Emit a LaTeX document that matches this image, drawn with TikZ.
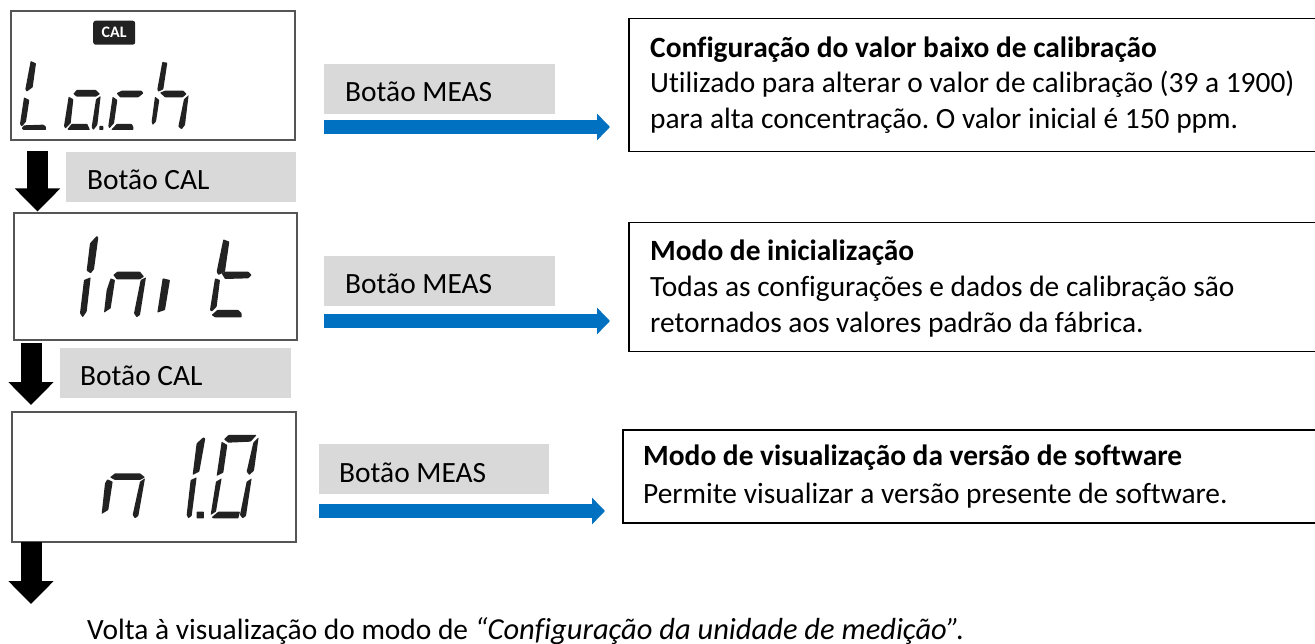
\documentclass[tikz,border=0pt]{standalone}
\usepackage{fontspec}
\setmainfont[Ligatures=NoCommon]{Carlito}
\usetikzlibrary{arrows.meta}
\definecolor{lcdline}{HTML}{555555}
\definecolor{seg}{HTML}{222222}
\definecolor{btn}{HTML}{D9D9D9}
\definecolor{flow}{HTML}{0070C0}
\tikzset{
  lcd/.style={draw=lcdline,line width=1.6pt,fill=white,anchor=north west,inner sep=0pt},
  btnbox/.style={fill=btn,anchor=north west,inner sep=0pt,minimum width=231pt,minimum height=50pt},
  infobox/.style={draw=black,line width=1.5pt,fill=white,anchor=north west,inner sep=0pt},
  txt/.style={anchor=base west,inner sep=0pt,font=\fontsize{29.4}{34}\selectfont,text=black},
  boldtxt/.style={txt,font=\bfseries\fontsize{29.4}{34}\selectfont},
  downarrow/.style={line width=21pt,draw=black,-{Triangle[width=44pt,length=23pt,fill=black]}},
  bluearrow/.style={line width=14pt,draw=flow,-{Triangle[width=26pt,length=13pt,fill=flow]}},
  sg/.style={fill=seg,draw=none,rounded corners=0.6pt},
  zoomA/.style={shift={(10pt,-50pt)},x=0.3333pt,y=-0.3333pt},
  zoomB/.style={shift={(70pt,-230pt)},x=0.3333pt,y=-0.3333pt},
  zoomC/.style={shift={(0pt,-400pt)},x=0.3333pt,y=-0.3333pt},
}
\begin{document}
\frenchspacing
\begin{tikzpicture}[x=1pt,y=-1pt]
\useasboundingbox (0,0) rectangle (1315,644);
\fill[white] (0,0) rectangle (1315,644);

% LCD panels
\node[lcd,minimum width=284pt,minimum height=129pt] (lcd1) at (10,10) {};
\node[lcd,minimum width=283pt,minimum height=127pt] (lcd2) at (13,212) {};
\node[lcd,minimum width=284pt,minimum height=130pt] (lcd3) at (11,411) {};

% CAL badge
\node[fill=seg,rounded corners=2.5pt,text=white,anchor=north west,inner sep=0pt,minimum width=42pt,minimum height=24pt,font=\bfseries\fontsize{16}{16}\selectfont] (calbadge) at (93,20.5) {CAL};

% Lach
\begin{scope}[zoomA]
\fill[sg] (62,33)--(78,40)--(68,112)--(50,125)--(46,118)--cycle;
\fill[sg] (42,142)--(58,150)--(48,215)--(35,230)--(30,222)--cycle;
\fill[sg] (42,226)--(100,224)--(108,230)--(108,240)--(40,240)--(35,235)--cycle;
\fill[sg] (190,132)--(200,120)--(258,120)--(270,132)--(258,140)--(200,140)--cycle;
\fill[sg] (176,140)--(190,148)--(182,220)--(166,236)--(162,228)--cycle;
\fill[sg] (172,238)--(185,222)--(232,222)--(240,240)--(175,240)--cycle;
\fill[sg] (258,148)--(272,138)--(262,225)--(250,240)--(245,232)--cycle;
\fill[sg] (268,228)--(280,228)--(280,240)--(268,240)--cycle;
\fill[sg] (320,130)--(335,122)--(395,122)--(400,130)--(385,142)--(330,142)--cycle;
\fill[sg] (308,140)--(322,150)--(312,220)--(298,235)--(295,228)--cycle;
\fill[sg] (305,238)--(320,222)--(365,222)--(370,230)--(370,240)--(305,240)--cycle;
\fill[sg] (457,36)--(472,38)--(460,118)--(445,125)--(442,118)--cycle;
\fill[sg] (435,140)--(448,150)--(438,215)--(428,225)--(425,215)--cycle;
\fill[sg] (450,128)--(465,122)--(520,122)--(530,132)--(518,142)--(465,142)--cycle;
\fill[sg] (522,148)--(536,135)--(525,225)--(515,238)--(505,230)--cycle;
\end{scope}

% Init
\begin{scope}[zoomB]
\fill[sg] (80,18)--(85,22)--(72,118)--(62,130)--(50,122)--(60,40)--cycle;
\fill[sg] (42,150)--(62,142)--(50,245)--(38,262)--(30,250)--cycle;
\fill[sg] (130,135)--(142,125)--(210,125)--(222,140)--(210,148)--(140,148)--cycle;
\fill[sg] (122,145)--(135,150)--(122,235)--(102,248)--(110,180)--cycle;
\fill[sg] (212,150)--(228,142)--(210,255)--(200,262)--(192,250)--cycle;
\fill[sg] (278,145)--(300,150)--(285,240)--(262,248)--cycle;
\fill[sg] (460,28)--(478,35)--(465,125)--(445,135)--(440,125)--cycle;
\fill[sg] (455,130)--(465,125)--(535,125)--(545,135)--(535,145)--(465,147)--cycle;
\fill[sg] (435,145)--(450,150)--(440,230)--(425,245)--(420,240)--cycle;
\fill[sg] (425,255)--(442,240)--(505,240)--(515,250)--(515,262)--(435,262)--cycle;
\end{scope}

% n 1.0
\begin{scope}[zoomC]
\fill[sg] (330,232)--(345,220)--(420,220)--(435,232)--(420,240)--(345,240)--cycle;
\fill[sg] (322,238)--(338,245)--(325,330)--(305,342)--(315,250)--cycle;
\fill[sg] (420,245)--(435,235)--(415,348)--(405,355)--(398,345)--cycle;
\fill[sg] (610,112)--(616,115)--(598,215)--(578,225)--(590,130)--cycle;
\fill[sg] (572,240)--(590,232)--(575,348)--(565,355)--(560,345)--cycle;
\fill[sg] (590,335)--(612,335)--(612,355)--(590,355)--cycle;
\fill[sg] (672,118)--(685,105)--(770,105)--(752,125)--(685,128)--cycle;
\fill[sg] (665,125)--(682,135)--(670,218)--(650,228)--cycle;
\fill[sg] (760,128)--(776,112)--(762,212)--(748,225)--(740,215)--cycle;
\fill[sg] (648,245)--(665,235)--(648,335)--(632,345)--cycle;
\fill[sg] (740,245)--(755,235)--(738,348)--(728,355)--(720,345)--cycle;
\fill[sg] (635,352)--(655,335)--(720,335)--(715,355)--(640,355)--cycle;
\end{scope}

% grey CAL labels
\node[btnbox,minimum width=230pt] (cal1) at (66,152) {};
\node[btnbox,minimum width=231pt] (cal2) at (60,348) {};
\node[txt] (cal1t) at (87,190) {Botão CAL};
\node[txt] (cal2t) at (80,385.5) {Botão CAL};

% grey MEAS labels
\node[btnbox] (meas1) at (324,64) {};
\node[btnbox] (meas2) at (324,256) {};
\node[btnbox,minimum width=230pt] (meas3) at (319,444) {};
\node[txt] (meas1t) at (345,102) {Botão MEAS};
\node[txt] (meas2t) at (345,294) {Botão MEAS};
\node[txt] (meas3t) at (339,482) {Botão MEAS};

% information boxes
\node[infobox,minimum width=700pt,minimum height=133pt] (info1) at (628,18) {};
\node[infobox,minimum width=700pt,minimum height=129pt] (info2) at (628,222) {};
\node[infobox,minimum width=706pt,minimum height=93pt] (info3) at (622,429) {};

\node[boldtxt] (t1a) at (650,57.5) {Configuração do valor baixo de calibração};
\node[txt] (t1b) at (650,93) {Utilizado para alterar o valor de calibração (39 a 1900)};
\node[txt] (t1c) at (650,128.5) {para alta concentração. O valor inicial é 150 ppm.};
\node[boldtxt] (t2a) at (650,260.5) {Modo de inicialização};
\node[txt] (t2b) at (650,297) {Todas as configurações e dados de calibração são};
\node[txt] (t2c) at (650,332.5) {retornados aos valores padrão da fábrica.};
\node[boldtxt] (t3a) at (643,465.5) {Modo de visualização da versão de software};
\node[txt] (t3b) at (643,503.5) {Permite visualizar a versão presente de software.};

\node[txt] (back) at (87,639) {Volta à visualização do modo de {\fontsize{30.5}{34}\selectfont\itshape “Configuração da unidade de medição”.}};

% connector ends
\coordinate (d1s) at (37.5,151);
\coordinate (d1e) at (37.5,211.5);
\coordinate (d2s) at (31,343);
\coordinate (d2e) at (31,405);
\coordinate (d3s) at (31,542);
\coordinate (d3e) at (31,604);
\coordinate (m1s) at (324,127);
\coordinate (m1e) at (610,127);
\coordinate (m2s) at (324,321);
\coordinate (m2e) at (610,321);
\coordinate (m3s) at (319,511);
\coordinate (m3e) at (605,511);

\draw[downarrow] (d1s) -- (d1e);
\draw[downarrow] (d2s) -- (d2e);
\draw[downarrow] (d3s) -- (d3e);
\draw[bluearrow] (m1s) -- (m1e);
\draw[bluearrow] (m2s) -- (m2e);
\draw[bluearrow] (m3s) -- (m3e);
\end{tikzpicture}
\end{document}
